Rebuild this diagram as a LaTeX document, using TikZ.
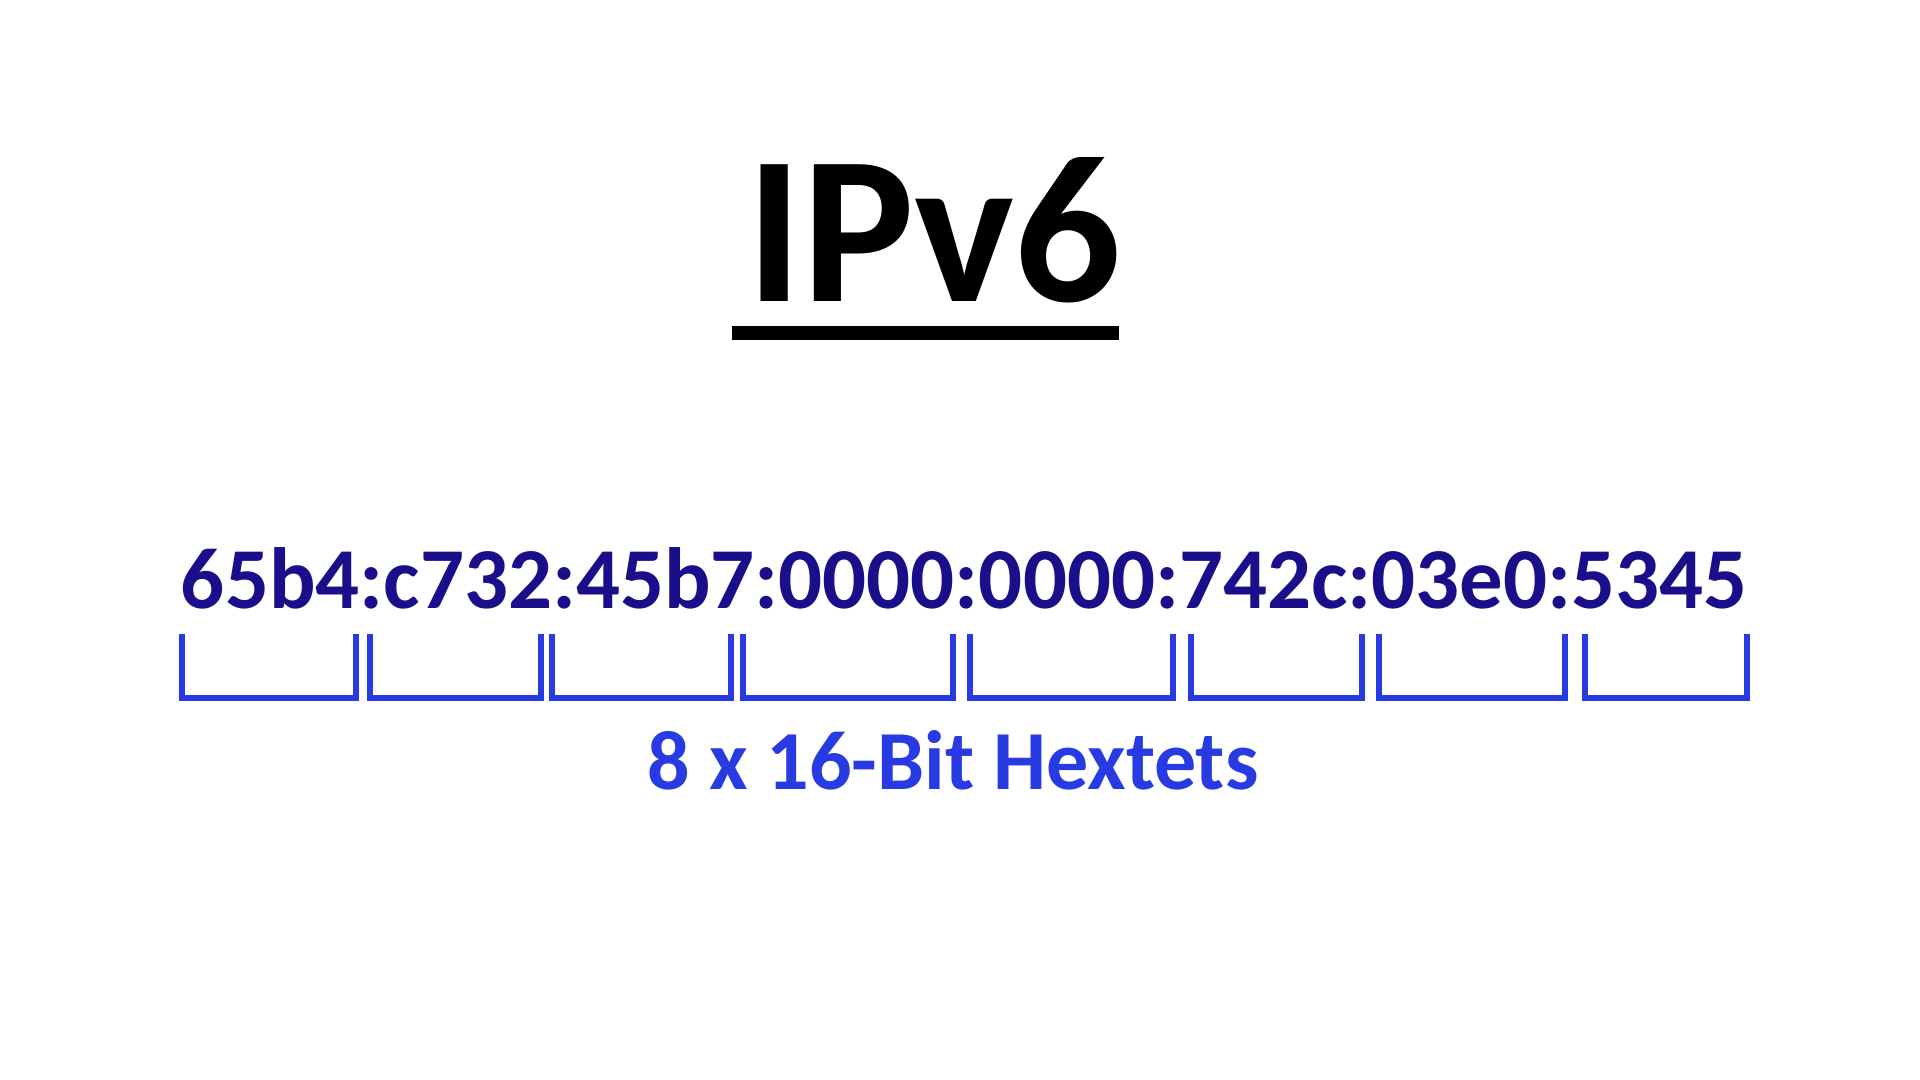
\documentclass[tikz,border=0pt]{standalone}
\usepackage{fontspec}
\setmainfont{Carlito}
\definecolor{addrnavy}{RGB}{26,14,138}
\definecolor{hexblue}{RGB}{40,58,226}
\begin{document}
\begin{tikzpicture}[x=0.01cm, y=-0.01cm]
    \tikzstyle{heading} = [inner sep=0, anchor=base, font=\fontsize{60}{60}\selectfont\bfseries]
    \tikzstyle{address} = [inner sep=0, anchor=base, color=addrnavy, font=\fontsize{24.7}{24.7}\selectfont\bfseries]
    \tikzstyle{caption} = [inner sep=0, anchor=base, color=hexblue, font=\fontsize{23.9}{23.9}\selectfont\bfseries]
    \tikzstyle{bracket} = [color=hexblue, line width=1.8pt, line join=miter]
    \fill[white] (0, 0) rectangle (1920, 1080);
    \useasboundingbox (0, 0) rectangle (1920, 1080);
    \node[heading] (title) at (934, 302) {IPv6};
    \fill (732, 326) rectangle (1119, 340);
    \node[address] (addr) at (964, 609) {65b4:c732:45b7:0000:0000:742c:03e0:5345};
    \foreach \l/\r in {182/356, 370/541, 552/731, 743/953, 970/1173, 1191/1362, 1379/1565, 1585/1747} {
        \draw[bracket] (\l, 634) -- (\l, 698) -- (\r, 698) -- (\r, 634);
    }
    \node[caption] (hextets) at (953, 790) {8 x 16-Bit Hextets};
\end{tikzpicture}
\end{document}
